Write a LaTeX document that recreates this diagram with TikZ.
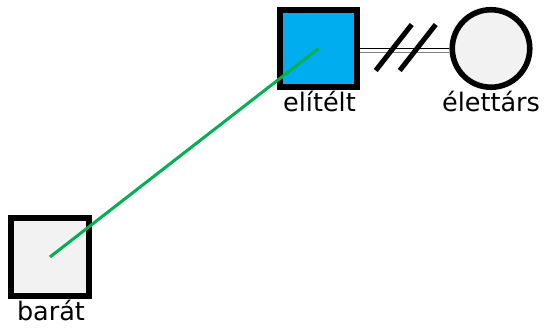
\documentclass[tikz,border=0pt]{standalone}
\usepackage{fontspec}
\setmainfont{DejaVu Sans}
\usetikzlibrary{calc}
\definecolor{elitelkek}{HTML}{00AEEF}
\definecolor{szurke}{HTML}{F2F2F2}
\definecolor{barzold}{HTML}{00B050}
\begin{document}
\begin{tikzpicture}[x=1pt, y=-1pt, font=\fontsize{25.5}{30}\selectfont, line join=miter,
		szemely/.style={draw=black, line width=5.6pt, minimum size=77.5pt, inner sep=0pt},
		felirat/.style={anchor=base, inner sep=0pt}]
			\useasboundingbox (0,0) rectangle (545,331);
			\node[szemely, rectangle, fill=elitelkek] (elitelt) at (318.5,48.5) {};
			\node[szemely, circle, fill=szurke] (elettars) at (491,48.5) {};
			\node[szemely, rectangle, fill=szurke] (barat) at (50,257) {};
			\node[felirat] (elitelt-nev) at (319.5,112) {elítélt};
			\node[felirat] (elettars-nev) at (491,112) {élettárs};
			\node[felirat] (barat-nev) at (51,320) {barát};
			% valas
			\draw[line width=1.4pt] (elitelt.east) -- (elettars.west);
			\draw[line width=1.8pt, gray] ([yshift=-4pt]elitelt.east) -- ([yshift=-4pt]elettars.west);
			\coordinate (valas) at ($(elitelt.east)!0.5!(elettars.west)$);
			\draw[line width=5pt] ($(valas)+(-29,22)$) -- ($(valas)+(7,-24)$);
			\draw[line width=5pt] ($(valas)+(-5,22)$) -- ($(valas)+(31,-24)$);
			% barat
			\draw[line width=3pt, barzold] (barat.center) -- (elitelt.center);
	\end{tikzpicture}
\end{document}
